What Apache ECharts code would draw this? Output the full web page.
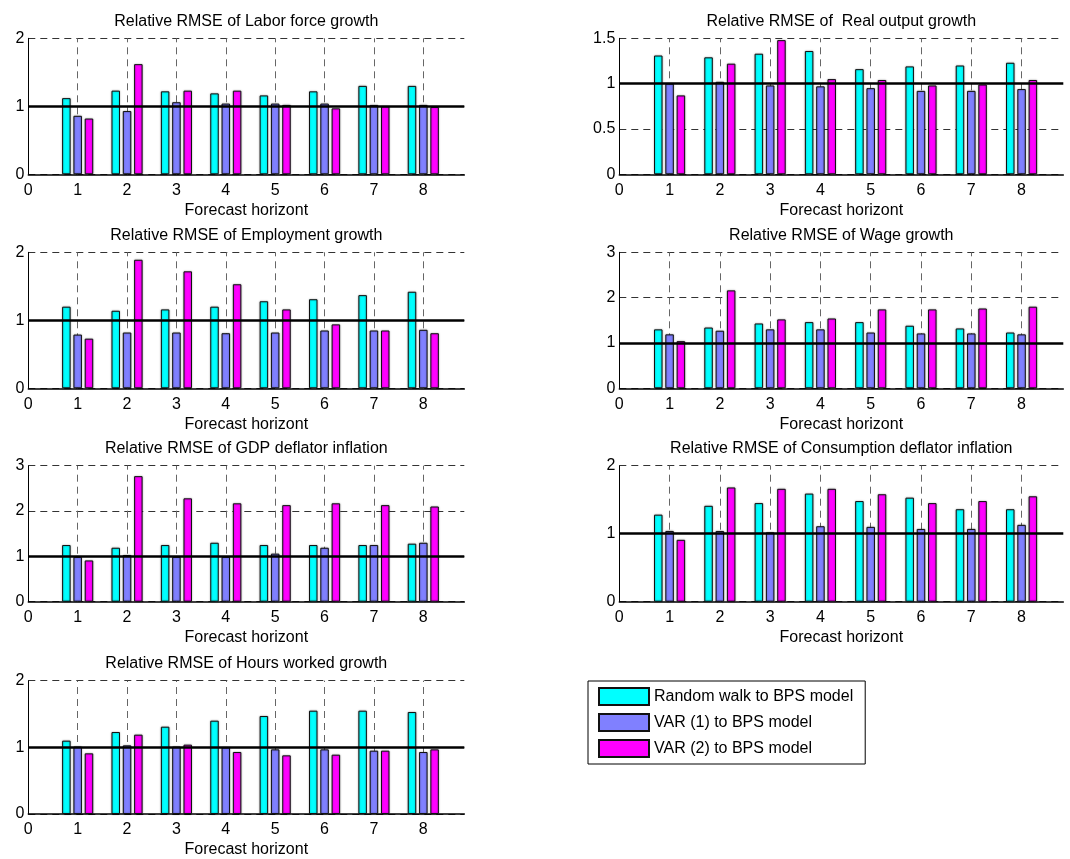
<!DOCTYPE html>
<html><head><meta charset="utf-8">
<script src="https://cdn.jsdelivr.net/npm/echarts@6/dist/echarts.min.js"></script>
<style>html,body{margin:0;padding:0;background:#fff}#c{width:1070px;height:859px}</style>
</head><body><div id="c"></div>
<script>
// ---------- data ----------
const horizons = [1, 2, 3, 4, 5, 6, 7, 8];
const seriesNames = ['Random walk to BPS model', 'VAR (1) to BPS model', 'VAR (2) to BPS model'];
const titles = [
  'Relative RMSE of Labor force growth',
  'Relative RMSE of  Real output growth',
  'Relative RMSE of Employment growth',
  'Relative RMSE of Wage growth',
  'Relative RMSE of GDP deflator inflation',
  'Relative RMSE of Consumption deflator inflation',
  'Relative RMSE of Hours worked growth'
];
const xAxisName = 'Forecast horizont';

const laborRW   = [1.12, 1.23, 1.22, 1.19, 1.16, 1.22, 1.30, 1.30];
const laborVAR1 = [0.86, 0.93, 1.06, 1.04, 1.04, 1.04, 1.02, 1.02];
const laborVAR2 = [0.82, 1.62, 1.23, 1.23, 1.02, 0.97, 1.00, 0.99];

const outputRW   = [1.31, 1.29, 1.33, 1.36, 1.16, 1.19, 1.20, 1.23];
const outputVAR1 = [1.00, 1.02, 0.98, 0.97, 0.95, 0.92, 0.92, 0.94];
const outputVAR2 = [0.87, 1.22, 1.48, 1.05, 1.04, 0.98, 0.99, 1.04];

const emplRW   = [1.20, 1.14, 1.16, 1.20, 1.28, 1.31, 1.37, 1.42];
const emplVAR1 = [0.79, 0.82, 0.82, 0.81, 0.82, 0.85, 0.85, 0.86];
const emplVAR2 = [0.73, 1.89, 1.72, 1.53, 1.16, 0.94, 0.85, 0.81];

const wageRW   = [1.30, 1.34, 1.43, 1.46, 1.46, 1.38, 1.32, 1.23];
const wageVAR1 = [1.19, 1.27, 1.30, 1.30, 1.23, 1.21, 1.21, 1.19];
const wageVAR2 = [1.04, 2.16, 1.52, 1.54, 1.74, 1.74, 1.76, 1.80];

const gdpRW   = [1.25, 1.19, 1.25, 1.30, 1.25, 1.25, 1.25, 1.28];
const gdpVAR1 = [0.99, 1.03, 0.99, 0.99, 1.06, 1.19, 1.25, 1.30];
const gdpVAR2 = [0.91, 2.77, 2.28, 2.17, 2.13, 2.17, 2.13, 2.10];

const consRW   = [1.28, 1.41, 1.45, 1.59, 1.48, 1.53, 1.36, 1.36];
const consVAR1 = [1.04, 1.04, 1.02, 1.11, 1.10, 1.07, 1.07, 1.13];
const consVAR2 = [0.91, 1.68, 1.66, 1.66, 1.58, 1.45, 1.48, 1.55];

const hoursRW   = [1.10, 1.23, 1.31, 1.40, 1.47, 1.55, 1.55, 1.53];
const hoursVAR1 = [1.01, 1.03, 1.01, 1.00, 0.97, 0.97, 0.95, 0.93];
const hoursVAR2 = [0.91, 1.19, 1.04, 0.93, 0.88, 0.89, 0.95, 0.97];

const yMaxes    = [2, 1.5, 2, 3, 3, 2, 2];
const yIntervals = [1, 0.5, 1, 1, 1, 1, 1];
const refLevel = 1;

// ---------- build ----------
const panels = [
  [laborRW, laborVAR1, laborVAR2],
  [outputRW, outputVAR1, outputVAR2],
  [emplRW, emplVAR1, emplVAR2],
  [wageRW, wageVAR1, wageVAR2],
  [gdpRW, gdpVAR1, gdpVAR2],
  [consRW, consVAR1, consVAR2],
  [hoursRW, hoursVAR1, hoursVAR2]
];
const colors = ['#00ffff', '#8080ff', '#ff00ff'];
const font = "'Liberation Sans', Arial, sans-serif";
const rowTops = [38.3, 252.3, 465.7, 680.7];
const gridH = 136;
const colLeft = [28.3, 619.3];
const colW = [436, 444];
const xMax = 8.83;

const grids = [], xAxes = [], yAxes = [], series = [], titleOpts = [];
panels.forEach((p, i) => {
  const col = i % 2, row = Math.floor(i / 2);
  const top = rowTops[row];
  grids.push({left: colLeft[col], top: top, width: colW[col], height: gridH, containLabel: false});
  titleOpts.push({
    text: titles[i], left: colLeft[col] + colW[col] / 2, top: top - 25, textAlign: 'center', padding: 0,
    textStyle: {fontSize: 16, fontWeight: 'normal', color: '#000', fontFamily: font}
  });
  xAxes.push({
    type: 'value', gridIndex: i, min: 0, max: xMax, interval: 1,
    name: xAxisName, nameLocation: 'middle', nameGap: 28,
    nameTextStyle: {fontSize: 16, color: '#000', fontFamily: font},
    axisLine: {show: true, onZero: false, lineStyle: {color: '#000', width: 1.5}},
    axisTick: {show: false},
    axisLabel: {fontSize: 16, color: '#000', fontFamily: font, margin: 8, showMaxLabel: false,
      formatter: v => (Math.abs(v - Math.round(v)) < 1e-6 ? String(Math.round(v)) : '')},
    splitLine: {show: false}
  });
  yAxes.push({
    type: 'value', gridIndex: i, min: 0, max: yMaxes[i], interval: yIntervals[i],
    axisLine: {show: true, lineStyle: {color: '#000', width: 1}},
    axisTick: {show: false},
    axisLabel: {fontSize: 16, color: '#000', fontFamily: font, margin: 4},
    splitLine: {show: true, lineStyle: {color: '#333', type: [7, 5], width: 1}}
  });
  p.forEach((vals, k) => {
    const s = {
      name: seriesNames[k], type: 'bar', xAxisIndex: i, yAxisIndex: i,
      data: horizons.map((h, j) => [h, vals[j]]),
      barWidth: 8.5, barGap: '33%',
      itemStyle: {color: colors[k], borderColor: '#111', borderWidth: 1,
        shadowColor: 'rgba(0,0,0,0.35)', shadowBlur: 2},
      emphasis: {disabled: true}, silent: true, z: 2
    };
    if (k === 1) {
      s.markLine = {
        silent: true, symbol: 'none', z: 1, animation: false,
        label: {show: false},
        lineStyle: {color: '#666', type: [7, 5], width: 1},
        data: horizons.map(h => ({xAxis: h}))
      };
    }
    if (k === 2) {
      s.markLine = {
        silent: true, symbol: 'none', z: 5, animation: false,
        label: {show: false},
        lineStyle: {color: '#000', type: 'solid', width: 2.5},
        data: [{yAxis: refLevel}]
      };
    }
    series.push(s);
  });
});

const chart = echarts.init(document.getElementById('c'), null, {renderer: 'canvas'});
chart.setOption({
  animation: false,
  backgroundColor: '#fff',
  textStyle: {fontFamily: font},
  title: titleOpts,
  grid: grids,
  xAxis: xAxes,
  yAxis: yAxes,
  legend: {
    data: seriesNames, orient: 'vertical', left: 588, top: 681,
    itemWidth: 50, itemHeight: 17, itemGap: 7, padding: [6, 12, 6, 10],
    borderColor: '#000', borderWidth: 1, icon: 'rect', selectedMode: false,
    textStyle: {fontSize: 16, color: '#000', fontFamily: font}
  },
  series: series
});
</script></body></html>
